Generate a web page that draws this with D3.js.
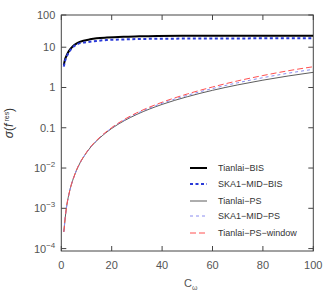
<!DOCTYPE html>
<html><head><meta charset="utf-8">
<script src="https://cdn.jsdelivr.net/npm/d3@7/dist/d3.min.js"></script>
<style>body{margin:0;background:#fff}svg{display:block}text{font-family:"Liberation Sans",Arial,sans-serif}</style>
</head><body>
<svg id="c" width="328" height="293"></svg>
<script>
// ---- data ----
const bisX = [1, 1.5, 2.2, 3, 4.8, 6.5, 8.8, 11.4, 14, 18, 24.7, 31, 38, 50, 60, 70, 80, 90, 100];
const tianlaiBIS = [3.6, 5.0, 6.4, 8.0, 10.9, 12.9, 14.5, 15.7, 16.6, 17.4, 18.2, 18.6, 19.0, 19.15, 19.2, 19.25, 19.3, 19.3, 19.3];
const skaBIS =     [3.3, 4.6, 6.0, 7.4, 10.3, 12.0, 13.0, 13.7, 14.3, 15.1, 15.6, 16.0, 16.2, 16.4, 16.5, 16.55, 16.6, 16.6, 16.6];
const psX = [1, 2, 3, 4, 5, 6, 8, 10, 12, 15, 20, 25, 30, 40, 50, 60, 70, 80, 90, 100];
const tianlaiPS =   [2.6e-4, 1.0e-3, 2.2e-3, 3.9e-3, 6.0e-3, 8.7e-3, 0.0155, 0.024, 0.035, 0.054, 0.096, 0.15, 0.215, 0.38, 0.59, 0.85, 1.16, 1.52, 1.93, 2.38];
const skaPS =       [2.6e-4, 1.0e-3, 2.2e-3, 3.9e-3, 6.0e-3, 8.7e-3, 0.0156, 0.0243, 0.0355, 0.055, 0.099, 0.156, 0.226, 0.405, 0.64, 0.94, 1.31, 1.75, 2.26, 2.83];
const windowPS =    [2.6e-4, 1.0e-3, 2.2e-3, 3.9e-3, 6.0e-3, 8.8e-3, 0.0157, 0.0246, 0.036, 0.056, 0.101, 0.161, 0.236, 0.43, 0.69, 1.03, 1.46, 1.98, 2.6, 3.28];
const xTicks = [0, 20, 40, 60, 80, 100];
const yTicks = [1e-4, 1e-3, 1e-2, 0.1, 1, 10, Math.pow(10, 1.8)];
const yTickLabels = [["10","−4"], ["10","−3"], ["10","−2"], ["0.1"], ["1"], ["10"], ["100"]];
const legendNames = ["Tianlai−BIS", "SKA1−MID−BIS", "Tianlai−PS", "SKA1−MID−PS", "Tianlai−PS−window"];

// ---- layout ----
const L = 61.3, R = 313.3, T = 15, B = 251;
const svg = d3.select("#c");
const x = d3.scaleLinear().domain([0, 100]).range([L, R]);
const y = d3.scaleLog().domain([Math.pow(10, -4.06), Math.pow(10, 1.8)]).range([B, T]);
const axisCol = "#444", txtCol = "#555";

// ticks (inward, mirrored)
const g = svg.append("g");
xTicks.forEach(v => {
  g.append("line").attr("x1", x(v)).attr("x2", x(v)).attr("y1", B).attr("y2", B - 5).attr("stroke", axisCol);
  g.append("line").attr("x1", x(v)).attr("x2", x(v)).attr("y1", T).attr("y2", T + 5).attr("stroke", axisCol);
  g.append("text").attr("x", x(v)).attr("y", B + 18).attr("text-anchor", "middle")
    .attr("font-size", 11).attr("fill", txtCol).text(v);
});
yTicks.forEach((v, i) => {
  g.append("line").attr("x1", L).attr("x2", L + 5).attr("y1", y(v)).attr("y2", y(v)).attr("stroke", axisCol);
  g.append("line").attr("x1", R).attr("x2", R - 5).attr("y1", y(v)).attr("y2", y(v)).attr("stroke", axisCol);
  const lab = yTickLabels[i];
  const t = g.append("text").attr("x", L - 6).attr("y", y(v) + 4).attr("text-anchor", "end")
    .attr("font-size", 11).attr("fill", txtCol);
  if (lab.length === 2) {
    t.append("tspan").text(lab[0]);
    t.append("tspan").attr("dy", -5).attr("font-size", 8).text(lab[1]);
  } else t.text(lab[0]);
});

// frame
svg.append("rect").attr("x", L).attr("y", T).attr("width", R - L).attr("height", B - T)
  .attr("fill", "none").attr("stroke", axisCol).attr("stroke-width", 1);

// curves
const line = (xs) => d3.line().x((d, i) => x(xs[i])).y(d => y(d)).curve(d3.curveMonotoneX);
const styles = [
  {stroke: "#000", w: 2, dash: null},
  {stroke: "#2a3ad8", w: 2, dash: "3,2.5"},
  {stroke: "#333", w: 0.8, dash: null},
  {stroke: "#8a8cf0", w: 1, dash: "3,3"},
  {stroke: "#ff5050", w: 1, dash: "6,3"}
];
const series = [[bisX, tianlaiBIS], [bisX, skaBIS], [psX, tianlaiPS], [psX, skaPS], [psX, windowPS]];
const drawOrder = [2, 3, 4, 0, 1];
svg.append("clipPath").attr("id", "cp").append("rect").attr("x", L).attr("y", T).attr("width", R - L).attr("height", B - T);
drawOrder.forEach(k => {
  const s = styles[k];
  svg.append("path").attr("clip-path", "url(#cp)").attr("d", line(series[k][0])(series[k][1]))
    .attr("fill", "none").attr("stroke", s.stroke).attr("stroke-width", s.w)
    .attr("stroke-dasharray", s.dash);
});

// legend
const legY = [168, 184, 201, 216, 233];
legendNames.forEach((n, i) => {
  const s = styles[i];
  svg.append("line").attr("x1", 190).attr("x2", 207).attr("y1", legY[i]).attr("y2", legY[i])
    .attr("stroke", s.stroke).attr("stroke-width", s.w).attr("stroke-dasharray", s.dash);
  svg.append("text").attr("x", 218).attr("y", legY[i] + 3).attr("font-size", 9).attr("fill", "#333").text(n);
});

// axis titles
const xt = svg.append("text").attr("x", 184).attr("y", 287).attr("font-size", 11).attr("fill", txtCol);
xt.append("tspan").text("C");
xt.append("tspan").attr("dy", 3).attr("font-size", 7).text("ω");

const yt = svg.append("text").attr("transform", "translate(13,123) rotate(-90)").attr("text-anchor", "middle")
  .attr("font-size", 12).attr("fill", "#333");
yt.append("tspan").attr("font-style", "italic").text("σ");
yt.append("tspan").text("(");
yt.append("tspan").attr("font-style", "italic").text("f");
yt.append("tspan").attr("dy", -4).attr("font-size", 7).text(" res");
yt.append("tspan").attr("dy", 4).text(")");
</script>
</body></html>
